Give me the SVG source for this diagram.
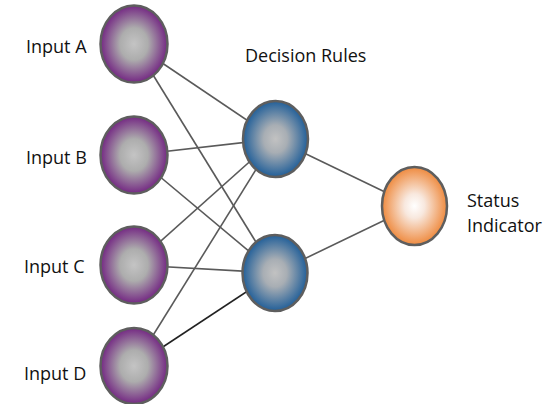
<svg xmlns="http://www.w3.org/2000/svg" width="547" height="404" viewBox="0 0 547 404">
<defs>
<radialGradient id="gp" cx="50%" cy="50%" r="52%"><stop offset="0" stop-color="#c4c4c4"/><stop offset="0.4" stop-color="#adadad"/><stop offset="1" stop-color="#701f80"/></radialGradient>
<radialGradient id="gb" cx="50%" cy="50%" r="52%"><stop offset="0" stop-color="#c2c2c2"/><stop offset="0.35" stop-color="#a8aeb4"/><stop offset="1" stop-color="#195a97"/></radialGradient>
<radialGradient id="go" cx="50%" cy="50%" r="52%"><stop offset="0" stop-color="#ffffff"/><stop offset="0.3" stop-color="#f8e8de"/><stop offset="1" stop-color="#ee8536"/></radialGradient>
</defs>
<style>
.e{stroke:#5e5e5e;stroke-width:2.5}
.c line{stroke:#5a5a5a;stroke-width:1.6}
text{font-family:"Open Sans","Liberation Sans",sans-serif;font-size:18px;fill:#111}
</style>
<rect width="547" height="404" fill="#fff"/>
<g id="connectors" class="c">
<line x1="134" y1="44" x2="275" y2="139"/>
<line x1="134" y1="44" x2="275" y2="273"/>
<line x1="134" y1="155" x2="275" y2="139"/>
<line x1="134" y1="155" x2="275" y2="273"/>
<line x1="134" y1="265" x2="275" y2="139"/>
<line x1="134" y1="265" x2="275" y2="273"/>
<line x1="134" y1="366" x2="275" y2="139"/>
<line x1="134" y1="366" x2="275" y2="273" style="stroke:#222"/>
<line x1="275" y1="139" x2="414" y2="206"/>
<line x1="275" y1="273" x2="414" y2="206"/>
</g>
<g id="inputA"><ellipse class="e" cx="134" cy="44" rx="33.5" ry="38.5" fill="url(#gp)"/><text x="26" y="53">Input A</text></g>
<g id="inputB"><ellipse class="e" cx="134" cy="155" rx="33.5" ry="38.5" fill="url(#gp)"/><text x="26" y="164">Input B</text></g>
<g id="inputC"><ellipse class="e" cx="134" cy="265" rx="33.5" ry="38.5" fill="url(#gp)"/><text x="24" y="273">Input C</text></g>
<g id="inputD"><ellipse class="e" cx="134" cy="366" rx="33.5" ry="38" fill="url(#gp)"/><text x="24" y="380">Input D</text></g>
<g id="rule1"><ellipse class="e" cx="275.5" cy="139" rx="32.5" ry="38" fill="url(#gb)"/><text x="245" y="62">Decision Rules</text></g>
<g id="rule2"><ellipse class="e" cx="275" cy="273" rx="32.5" ry="38" fill="url(#gb)"/></g>
<g id="status"><ellipse class="e" cx="414.5" cy="206" rx="32.5" ry="39" fill="url(#go)"/><text x="467" y="207">Status</text><text x="467" y="232">Indicator</text></g>
</svg>
